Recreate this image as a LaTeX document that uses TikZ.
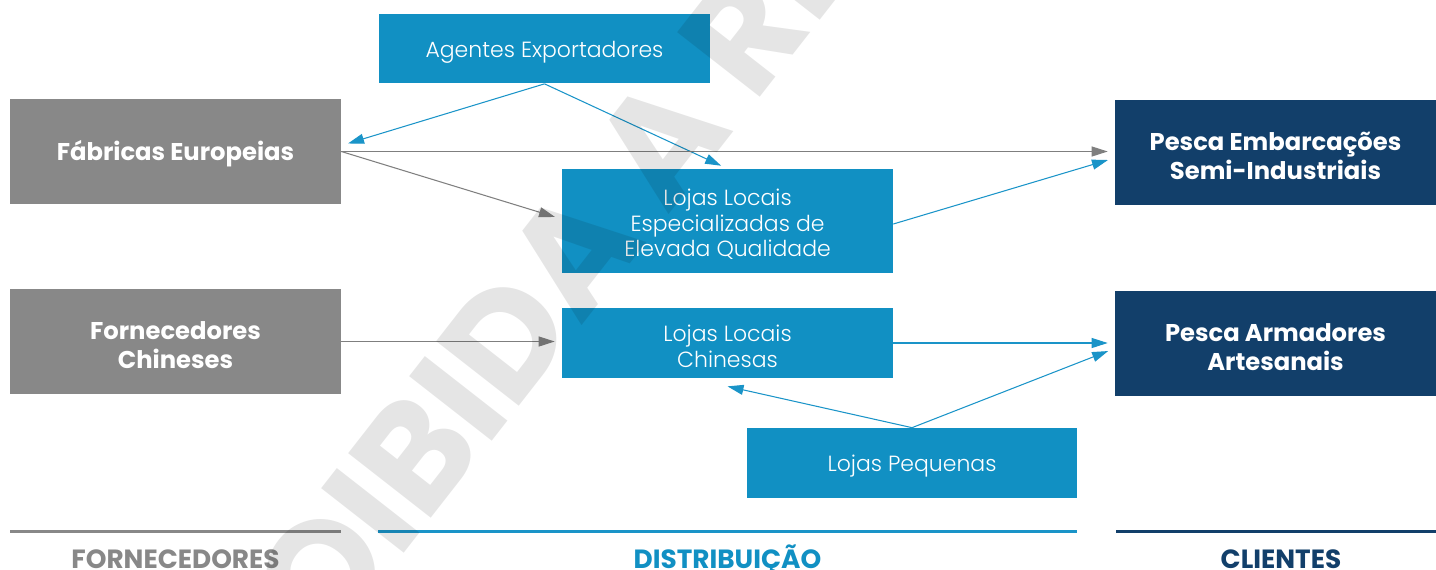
\documentclass[tikz,border=0pt]{standalone}
\usepackage{fontspec}
\setmainfont{Poppins}
\newfontfamily\lightfont{Poppins Light}
\usetikzlibrary{arrows.meta,positioning,calc}
\definecolor{boxgray}{HTML}{888888}
\definecolor{boxblue}{HTML}{1190C3}
\definecolor{boxnavy}{HTML}{123F6A}
\definecolor{linegray}{HTML}{7F7F7F}
\definecolor{lineblue}{HTML}{1A94C8}
% a bit of room above the first line, so the text sits lower in its box
\newcommand\boxpad{\rule{0pt}{\dimexpr0.74em+0.14cm\relax}}
\tikzset{
	supplier/.style={fill=boxgray, text=white, align=center, inner sep=0pt,
		minimum width=6.62cm, minimum height=2.1cm,
		font=\bfseries\fontsize{13.8}{16.5}\selectfont},
	shop/.style={fill=boxblue, text=white, align=center, inner sep=0pt,
		minimum width=6.62cm, minimum height=1.4cm,
		font=\lightfont\fontsize{12.5}{14.5}\selectfont},
	client/.style={fill=boxnavy, text=white, align=center, inner sep=0pt,
		minimum width=6.42cm, minimum height=2.1cm,
		font=\bfseries\fontsize{13.8}{16.5}\selectfont},
	grayflow/.style={draw=linegray, line width=0.6pt, shorten >=0.14cm,
		-{Triangle[length=0.32cm,width=0.2cm]}},
	blueflow/.style={draw=lineblue, line width=0.6pt, shorten >=0.14cm,
		-{Triangle[length=0.32cm,width=0.2cm]}},
	section/.style={anchor=base, font=\bfseries\fontsize{15}{18}\selectfont}
}
\begin{document}
\begin{tikzpicture}[x=0.02cm,y=-0.02cm]
	\useasboundingbox (0,0) rectangle (1436,569);
	% boxes
	\node[shop] (agentes) at (544.5,48.5) {\boxpad Agentes Exportadores};
	\node[supplier] (fabricas) at (175.5,151.5) {\boxpad Fábricas Europeias};
	\node[shop, minimum height=2.08cm] (especial) at (727.5,221) {\boxpad Lojas Locais\\Especializadas de\\Elevada Qualidade};
	\node[client] (embarc) at (1275.5,152.5) {\boxpad Pesca Embarcações\\Semi-Industriais};
	\node[supplier] (fornec) at (175.5,341.5) {\boxpad Fornecedores\\Chineses};
	\node[shop] (chinesas) at (727.5,343) {\boxpad Lojas Locais\\Chinesas};
	\node[client] (armad) at (1275.5,343.5) {\boxpad Pesca Armadores\\Artesanais};
	\node[shop, minimum width=6.6cm] (pequenas) at (912,463) {\boxpad Lojas Pequenas};
	% flows
	\draw[blueflow] (agentes.south) -- ($(fabricas.east)+(0,-6)$);
	\draw[blueflow] (agentes.south) -- (especial.north);
	\draw[grayflow] (fabricas.east) -- (fabricas.east -| embarc.west);
	\draw[grayflow] (fabricas.east) -- ($(especial.west)+(0,-2)$);
	\draw[blueflow] ($(especial.east)+(0,3)$) -- ($(embarc.west)+(0,5.5)$);
	\draw[grayflow] (fornec.east) -- (fornec.east -| chinesas.west);
	\draw[blueflow] (chinesas.east) -- (chinesas.east -| armad.west);
	\draw[blueflow, shorten >=0pt] (pequenas.north) -- ($(chinesas.south)+(0,8)$);
	\draw[blueflow] (pequenas.north) -- ($(armad.west)+(0,5)$);
	% columns
	\draw[boxgray, line width=1.7pt] (10,531) -- (341,531);
	\draw[lineblue, line width=1.7pt] (378,531) -- (1077,531);
	\draw[boxnavy, line width=1.7pt] (1116,531) -- (1436,531);
	\node[section, text=boxgray] (colforn) at (175.5,568) {FORNECEDORES};
	\node[section, text=boxblue] (coldist) at (727.5,568) {DISTRIBUIÇÃO};
	\node[section, text=boxnavy] (colcli) at (1281,568) {CLIENTES};
	% watermark
	\node[rotate=52, anchor=base west, text=black, text opacity=0.1,
		font=\bfseries\fontsize{85}{85}\selectfont] (marca) at (205,808) {PROIBIDA A REPRODUÇÃO};
\end{tikzpicture}
\end{document}
